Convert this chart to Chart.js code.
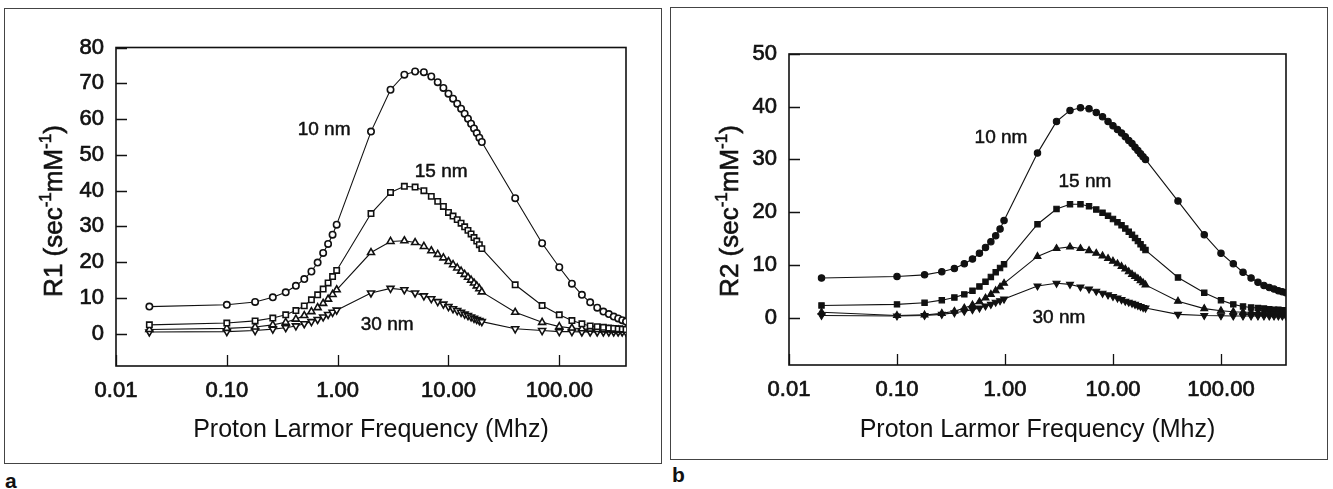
<!DOCTYPE html>
<html>
<head>
<meta charset="utf-8">
<script src="https://cdn.jsdelivr.net/npm/chart.js@4.4.1/dist/chart.umd.min.js"></script>
<style>
  html, body { margin: 0; padding: 0; background: #fff; }
  body { width: 1333px; height: 489px; position: relative; overflow: hidden;
         font-family: "Liberation Sans", Arial, sans-serif; color: #111; }
  .panel { position: absolute; border: 1px solid #444; box-sizing: border-box; }
  .panel canvas { position: absolute; left: 0; top: 0; }
  #pa { left: 4px; top: 8px; width: 658px; height: 456px; }
  #pb { left: 670px; top: 7px; width: 658px; height: 453px; }
  .tag { position: absolute; font-size: 21px; font-weight: bold; line-height: 21px; }
</style>
</head>
<body>
<div class="panel" id="pa"><canvas id="chartA" width="656" height="454"></canvas></div>
<div class="panel" id="pb"><canvas id="chartB" width="656" height="451"></canvas></div>
<div class="tag" style="left:5px; top:470px">a</div>
<div class="tag" style="left:672px; top:464px">b</div>

<script>
/* ── Datos ───────────────────────────────────── */
const freqs = [0.02, 0.1, 0.18, 0.26, 0.34, 0.42, 0.5, 0.58, 0.66, 0.74, 0.82, 0.9, 0.98,
    2, 3, 4, 5, 6, 7, 8, 9, 10, 11, 12, 13, 14, 15, 16, 17, 18, 19, 20,
    40, 70, 100, 130, 160, 190, 220, 250, 280, 310, 340, 370, 400];

const sizes = ['10 nm', '15 nm', '20 nm', '30 nm'];

// Panel a: R1
const r1_10 = [7.6, 8.1, 8.9, 10.2, 11.6, 13.4, 15.3, 17.4, 19.9, 22.6, 25.1, 27.7, 30.5,
    56.5, 68.2, 72.4, 73.3, 73.1, 71.9, 70.3, 68.7, 67.1, 65.7, 64.3, 62.9, 61.5, 60.1, 58.7, 57.4, 56.1, 54.8, 53.6,
    37.9, 25.3, 18.6, 14.0, 10.9, 8.8, 7.3, 6.2, 5.5, 4.8, 4.3, 3.8, 3.4];
const r1_15 = [2.5, 3.0, 3.6, 4.4, 5.3, 6.5, 7.8, 9.5, 10.9, 12.5, 14.2, 16.0, 17.7,
    33.6, 39.5, 41.2, 41.0, 40.0, 38.4, 37.0, 35.6, 33.9, 32.9, 31.9, 30.9, 29.9, 28.9, 27.9, 26.9, 25.9, 24.9, 23.8,
    13.7, 7.9, 5.3, 3.7, 2.8, 2.2, 2.0, 1.8, 1.6, 1.5, 1.4, 1.3, 1.2];
const r1_20 = [1.2, 1.5, 1.9, 2.5, 3.2, 4.1, 5.1, 6.2, 7.3, 8.5, 9.7, 11.0, 12.3,
    22.7, 25.8, 26.0, 25.5, 24.4, 23.2, 22.2, 21.2, 20.2, 19.3, 18.4, 17.5, 16.6, 15.8, 15.0, 14.2, 13.4, 12.6, 11.7,
    6.0, 3.2, 2.0, 1.6, 1.4, 1.3, 1.2, 1.1, 1.1, 1.0, 1.0, 1.0, 1.0];
const r1_30 = [0.5, 0.6, 0.9, 1.3, 1.7, 2.2, 2.8, 3.4, 4.0, 4.7, 5.4, 6.0, 6.6,
    11.4, 12.7, 12.3, 11.4, 10.6, 9.8, 9.0, 8.3, 7.6, 7.0, 6.5, 6.0, 5.5, 5.1, 4.7, 4.3, 4.0, 3.7, 3.4,
    1.4, 0.9, 0.6, 0.6, 0.5, 0.5, 0.5, 0.5, 0.5, 0.5, 0.5, 0.5, 0.5];

// Panel b: R2
const r2_10 = [7.5, 7.8, 8.1, 8.7, 9.3, 10.2, 11.1, 12.2, 13.3, 14.4, 15.5, 16.8, 18.4,
    31.2, 37.2, 39.3, 39.8, 39.6, 38.9, 38.1, 37.2, 36.4, 35.7, 35.0, 34.3, 33.6, 33.0, 32.3, 31.7, 31.1, 30.5, 30.0,
    22.1, 15.7, 12.2, 10.2, 8.6, 7.5, 6.7, 6.1, 5.7, 5.4, 5.1, 4.9, 4.7];
const r2_15 = [2.3, 2.5, 2.8, 3.3, 3.8, 4.4, 5.1, 5.9, 6.8, 7.7, 8.6, 9.4, 10.1,
    17.7, 20.6, 21.5, 21.5, 21.1, 20.5, 19.9, 19.3, 18.7, 18.1, 17.5, 16.9, 16.3, 15.7, 15.1, 14.5, 13.9, 13.3, 12.8,
    7.6, 4.7, 3.3, 2.5, 2.1, 1.9, 1.8, 1.7, 1.6, 1.5, 1.5, 1.4, 1.4];
const r2_20 = [1.0, 0.4, 0.5, 0.8, 1.2, 1.8, 2.4, 3.0, 3.7, 4.4, 5.1, 5.8, 6.5,
    11.6, 13.1, 13.4, 13.1, 12.7, 12.2, 11.7, 11.2, 10.7, 10.2, 9.7, 9.2, 8.7, 8.2, 7.8, 7.4, 7.0, 6.6, 6.2,
    3.1, 1.7, 1.3, 1.1, 1.0, 1.0, 0.9, 0.9, 0.9, 0.9, 0.9, 0.9, 0.9];
const r2_30 = [0.4, 0.3, 0.4, 0.6, 0.9, 1.2, 1.5, 1.8, 2.2, 2.5, 2.9, 3.2, 3.5,
    6.0, 6.5, 6.3, 5.8, 5.4, 5.0, 4.6, 4.3, 4.0, 3.7, 3.4, 3.1, 2.9, 2.7, 2.5, 2.3, 2.1, 1.9, 1.8,
    0.6, 0.4, 0.35, 0.3, 0.3, 0.3, 0.3, 0.3, 0.3, 0.3, 0.3, 0.3, 0.3];

// Ticks
const xTickVals   = [0.01, 0.1, 1, 10, 100];
const xTickLabels = ['0.01', '0.10', '1.00', '10.00', '100.00'];
const yTicksA = [0, 10, 20, 30, 40, 50, 60, 70, 80];
const yTicksB = [0, 10, 20, 30, 40, 50];

// Etiquetas de curvas: [texto, frecuencia, valor]
const notesA = [['10 nm', 0.755, 57], ['15 nm', 8.6, 45.2], ['30 nm', 2.8, 2.5]];
const notesB = [['10 nm', 0.918, 34.1], ['15 nm', 5.5, 25.7], ['30 nm', 3.16, 0]];

/* ── Estilo ──────────────────────────────────── */
const FONT = '"Liberation Sans", Arial, sans-serif';
const INK  = '#111';
const markers = [
    { pointStyle: 'circle',   radius: 3.2, rotation: 0 },
    { pointStyle: 'rect',     radius: 3.8, rotation: 0 },
    { pointStyle: 'triangle', radius: 4,   rotation: 0 },
    { pointStyle: 'triangle', radius: 4,   rotation: 180 }
];

// Marco, marcas internas, etiquetas y título del eje Y
const decor = {
    id: 'decor',
    beforeDatasetsDraw(chart) {
        const { ctx, chartArea: a, scales: { x, y } } = chart;
        ctx.save();
        ctx.strokeStyle = INK;
        ctx.lineWidth = 1.6;
        ctx.strokeRect(a.left, a.top, a.right - a.left, a.bottom - a.top);
        ctx.lineWidth = 1.3;
        ctx.beginPath();
        x.ticks.forEach(t => {
            const px = Math.round(x.getPixelForValue(t.value)) + 0.5;
            ctx.moveTo(px, a.bottom); ctx.lineTo(px, a.bottom - 11);
        });
        y.ticks.forEach(t => {
            const py = Math.round(y.getPixelForValue(t.value)) + 0.5;
            ctx.moveTo(a.left, py); ctx.lineTo(a.left + 11, py);
        });
        ctx.stroke();
        ctx.restore();
    },
    afterDraw(chart, args, o) {
        const { ctx, scales: { x, y } } = chart;
        ctx.save();
        ctx.fillStyle = INK;
        ctx.strokeStyle = INK;
        ctx.lineWidth = 0.5;
        ctx.textAlign = 'center';
        ctx.textBaseline = 'middle';
        ctx.font = '19px ' + FONT;
        (o.notes || []).forEach(([txt, f, v]) => {
            const px = x.getPixelForValue(f), py = y.getPixelForValue(v);
            ctx.fillText(txt, px, py);
            ctx.strokeText(txt, px, py);
        });

        // Título Y con superíndices
        const parts = [[o.yName + ' (sec', false], ['-1', true], ['mM', false], ['-1', true], [')', false]];
        const big = '26px ' + FONT, small = '17px ' + FONT;
        let total = 0;
        parts.forEach(([t, sup]) => { ctx.font = sup ? small : big; total += ctx.measureText(t).width; });
        ctx.translate(o.titleX, o.titleY);
        ctx.rotate(-Math.PI / 2);
        ctx.textAlign = 'left';
        ctx.textBaseline = 'alphabetic';
        ctx.lineWidth = 0.6;
        let cx = -total / 2;
        parts.forEach(([t, sup]) => {
            ctx.font = sup ? small : big;
            const ty = sup ? -1 : 9.5;
            ctx.fillText(t, cx, ty);
            ctx.strokeText(t, cx, ty);
            cx += ctx.measureText(t).width;
        });
        ctx.restore();
    }
};

function makeChart(id, series, yMax, yTicks, box, extra) {
    const datasets = series.map((vals, i) => ({
        label: sizes[i],
        data: freqs.map((f, k) => ({ x: f, y: vals[k] })),
        showLine: true,
        borderColor: INK,
        borderWidth: 1.1,
        tension: 0,
        pointStyle: markers[i].pointStyle,
        pointRadius: markers[i].radius,
        rotation: markers[i].rotation,
        pointBorderColor: INK,
        pointBorderWidth: extra.markerLine,
        pointBackgroundColor: extra.fill
    }));

    return new Chart(document.getElementById(id), {
        type: 'scatter',
        data: { datasets },
        options: {
            responsive: false,
            animation: false,
            devicePixelRatio: 1,
            layout: { padding: { left: 0, top: box.top, right: box.right, bottom: 0 } },
            plugins: {
                legend: { display: false },
                tooltip: { enabled: false },
                decor: { notes: extra.notes, yName: extra.yName, titleX: extra.titleX, titleY: extra.titleY }
            },
            scales: {
                x: {
                    type: 'logarithmic',
                    min: 0.01, max: 400,
                    afterBuildTicks: s => { s.ticks = xTickVals.map(v => ({ value: v })); },
                    afterFit: s => { s.height = box.bottom; },
                    grid: { display: false, drawTicks: false },
                    border: { display: false },
                    ticks: {
                        color: INK, padding: 12, maxRotation: 0, autoSkip: false,
                        textStrokeColor: INK, textStrokeWidth: 0.7,
                        font: { family: FONT, size: 22 },
                        callback: (v, i) => xTickLabels[i]
                    },
                    title: {
                        display: true, text: 'Proton Larmor Frequency (Mhz)', color: INK,
                        font: { family: FONT, size: 25, lineHeight: 1.2 },
                        padding: { top: 0, bottom: extra.xTitlePad }
                    }
                },
                y: {
                    min: -9, max: yMax,
                    afterBuildTicks: s => { s.ticks = yTicks.map(v => ({ value: v })); },
                    afterFit: s => { s.width = box.left; },
                    grid: { display: false, drawTicks: false },
                    border: { display: false },
                    ticks: {
                        color: INK, padding: 12,
                        textStrokeColor: INK, textStrokeWidth: 0.7,
                        font: { family: FONT, size: 22 }
                    }
                }
            }
        },
        plugins: [decor]
    });
}

makeChart('chartA', [r1_10, r1_15, r1_20, r1_30], 80, yTicksA,
    { left: 111, top: 38.5, right: 35, bottom: 97 },
    { fill: '#fff', markerLine: 1.6, notes: notesA, yName: 'R1', titleX: 47, titleY: 202, xTitlePad: 18 });

makeChart('chartB', [r2_10, r2_15, r2_20, r2_30], 50, yTicksB,
    { left: 118, top: 46, right: 41, bottom: 94 },
    { fill: INK, markerLine: 1.1, notes: notesB, yName: 'R2', titleX: 57, titleY: 203, xTitlePad: 14 });
</script>
</body>
</html>
